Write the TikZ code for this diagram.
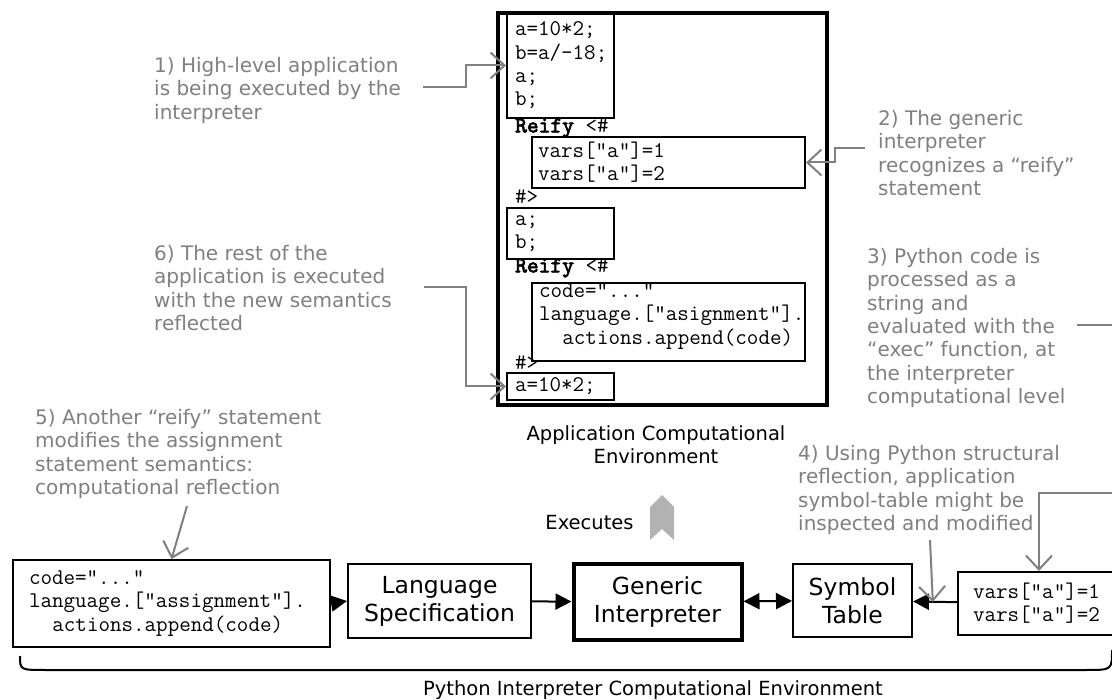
\documentclass[tikz,border=0pt]{standalone}
\usepackage{fontspec}
\setmainfont{DejaVu Sans}
\newfontfamily\reifyfont{lmmono10-regular.otf}[FakeBold=3]
\usetikzlibrary{arrows.meta,calc}
\definecolor{notegray}{RGB}{128,128,128}
\definecolor{chevgray}{RGB}{178,178,178}
\setlength{\parindent}{0pt}

\begin{document}
\begin{tikzpicture}[x=1pt,y=-1pt]
%%%%%%%%%%%%%%%%%%%%%%%%%%%%%%%%%%%%%%%%%%%%%%%%%%%%%%%%
% STYLE
\tikzstyle{codebox}=[rectangle,draw,line width=2pt,align=left,inner ysep=0pt,font=\ttfamily\fontsize{22.4}{23.3}\selectfont]
\tikzstyle{ttline}=[inner sep=0pt,anchor=west,font=\ttfamily\fontsize{22.4}{23.3}\selectfont]
\tikzstyle{box}=[rectangle,draw,line width=2pt,align=center,font=\fontsize{23.5}{28}\selectfont]
\tikzstyle{note}=[anchor=north west,inner sep=0pt,align=left,text=notegray,font=\fontsize{20}{23.4}\selectfont]
\tikzstyle{txt}=[align=center,font=\fontsize{19.5}{23}\selectfont]

\tikzset{link/.style={-{Triangle[length=16pt,width=16pt]},line width=2pt}}
\tikzset{dlink/.style={{Triangle[length=16pt,width=16pt]}-{Triangle[length=16pt,width=16pt]},line width=2pt}}
\tikzset{notelink/.style={-{Straight Barb[length=14pt,width=26pt]},line width=2pt,draw=notegray}}

\useasboundingbox (0,0) rectangle (1112,700);

%%%%%%%%%%%%%%%%%%%%%%%%%%%%%%%%%%%%%%%%%%%%%%%%%%%%%%%%
% NODES
\node[draw,line width=4pt,minimum width=329pt,minimum height=392pt] (appenv) at (662.5,209) {};

\node[codebox,text width=91pt,inner xsep=8pt,minimum height=105pt] (src1) at (560.5,65.5) {a=10*2;\\b=a/-18;\\a;\\b;};
\node[ttline] (reify1) at (515,128) {{\reifyfont Reify} <\#};
\node[codebox,text width=261pt,inner xsep=6pt,minimum height=51pt] (rbody1) at (668.5,162.5) {vars["a"]=1\\vars["a"]=2};
\node[ttline] (close1) at (515,197) {\#>};
\node[codebox,text width=91pt,inner xsep=8pt,minimum height=51pt] (src2) at (560.5,233.5) {a;\\b;};
\node[ttline] (reify2) at (515,268) {{\reifyfont Reify} <\#};
\node[codebox,text width=259pt,inner xsep=7pt,minimum height=78pt] (rbody2) at (668.5,322) {code=“...”\\language.["asignment"].\\\hspace*{23.4pt}actions.append(code)\\[-7pt]\mbox{}};
\node[ttline] (close2) at (515,363) {\#>};
\node[codebox,text width=91pt,inner xsep=8pt,minimum height=27pt] (src3) at (560.5,386.5) {a=10*2;};

\node[txt] (appenvlbl) at (656,444.5) {Application Computational\\Environment};
\node[txt] (execlbl) at (589.5,523) {Executes};
\fill[chevgray] (650,540) -- (650,507) -- (662,495) -- (674,507) -- (674,540) -- (662,529) -- cycle;

\node[codebox,text width=285pt,inner xsep=16pt,minimum height=87pt] (code) at (171.5,603.5) {code=“...”\\language.["assignment"].\\\hspace*{23.4pt}actions.append(code)};
\node[box,minimum width=183pt,minimum height=74pt] (langspec) at (439.5,601) {Language\\Specification};
\node[box,line width=4pt,minimum width=168pt,minimum height=76pt] (generic) at (657.5,602) {Generic\\Interpreter};
\node[box,minimum width=119pt,minimum height=73pt] (symtab) at (852.5,600.5) {Symbol\\Table};
\node[codebox,text width=132pt,inner xsep=15pt,minimum height=63pt] (vars) at (1039,603.5) {vars["a"]=1\\vars["a"]=2};

\draw[line width=2pt] (20,656) .. controls (20,670) .. (46,670) -- (1086,670) .. controls (1112,670) .. (1112,650);
\node[txt] (pyenvlbl) at (653,690) {Python Interpreter Computational Environment};

\node[note] (note1) at (154,57) {1) High-level application\\is being executed by the\\interpreter};
\node[note] (note2) at (878,110) {2) The generic\\interpreter\\recognizes a “reify”\\statement};
\node[note] (note3) at (867,248) {3) Python code is\\processed as a\\string and\\evaluated with the\\“exec” function, at\\the interpreter\\computational level};
\node[note] (note4) at (798,445) {4) Using Python structural\\reflection, application\\symbol-table might be\\inspected and modified};
\node[note] (note5) at (35,409) {5) Another “reify” statement\\modifies the assignment\\statement semantics:\\computational reflection};
\node[note] (note6) at (154,245) {6) The rest of the\\application is executed\\with the new semantics\\reflected};

\coordinate (c1) at (423,87);
\coordinate (c2) at (865,148);
\coordinate (c3) at (1077,325);
\coordinate (c3b) at (1140,493);
\coordinate (c4) at (930,540);
\coordinate (c5) at (187,506);
\coordinate (c6) at (424,287);

%%%%%%%%%%%%%%%%%%%%%%%%%%%%%%%%%%%%%%%%%%%%%%%%%%%%%%%%
% LINKS
\draw[link] (code.east) -- (langspec.west);
\draw[link] (langspec) -- (generic);
\draw[dlink] (generic) -- (symtab);
\draw[link] (vars) -- (symtab);

\draw[notelink] (c1) -- ++(43,0) |- (src1);
\draw[notelink] (c2) -- ++(-30,0) |- (rbody1);
\draw[notelink] (c3) -| (c3b) -| (vars.north);
\draw[notelink] (c4) -- ($(symtab.east)!0.45!(vars.west)$);
\draw[notelink] (c5) -- (code.north);
\draw[notelink] (c6) -- ++(42,0) |- (src3);

\end{tikzpicture}
\end{document}
